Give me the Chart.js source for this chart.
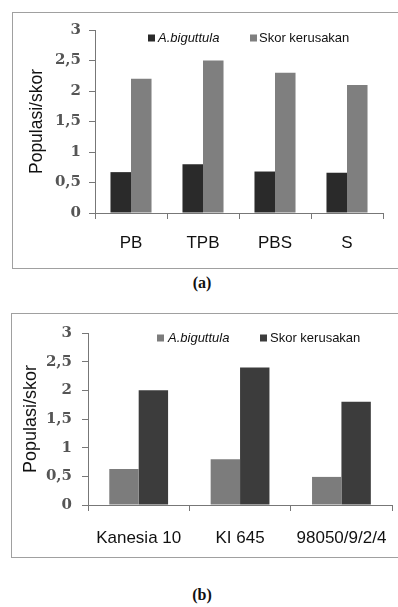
<!DOCTYPE html>
<html>
<head>
<meta charset="utf-8">
<script src="https://cdn.jsdelivr.net/npm/chart.js@4/dist/chart.umd.min.js"></script>
<style>
  html, body { margin:0; padding:0; background:#fff; }
  body { width:398px; height:607px; overflow:hidden; position:relative; }
  .frame { position:absolute; border:1px solid #a0a0a0; border-right:none; box-sizing:border-box; }
  .wrap { position:absolute; }
  .cap { position:absolute; width:60px; text-align:center; font:bold 16px "Liberation Serif", serif; color:#111; line-height:16px; }
</style>
</head>
<body>
<div class="frame" style="left:12px;top:12px;width:400px;height:257px;"></div>
<div class="wrap" style="left:13px;top:13px;width:385px;height:255px;"><canvas id="cA" width="385" height="255"></canvas></div>
<div class="cap" style="left:172px;top:275px;">(a)</div>

<div class="frame" style="left:11px;top:313px;width:400px;height:245px;"></div>
<div class="wrap" style="left:12px;top:314px;width:392px;height:243px;"><canvas id="cB" width="392" height="243"></canvas></div>
<div class="cap" style="left:172px;top:587px;">(b)</div>

<script>
// ---- data ----
const categoriesA = ['PB', 'TPB', 'PBS', 'S'];
const biguttulaA = [0.67, 0.80, 0.68, 0.66];
const skorA = [2.2, 2.5, 2.3, 2.1];

const categoriesB = ['Kanesia 10', 'KI 645', '98050/9/2/4'];
const biguttulaB = [0.63, 0.80, 0.49];
const skorB = [2.0, 2.4, 1.8];

const yTickValues = [0, 0.5, 1, 1.5, 2, 2.5, 3];
const yTickLabels = ['0', '0,5', '1', '1,5', '2', '2,5', '3'];
const seriesNames = ['A.biguttula', 'Skor kerusakan'];
const yTitle = 'Populasi/skor';

// ---- custom legend (italic first label) ----
const customLegend = {
  id: 'customLegend',
  afterDraw(chart, args, opts) {
    const ctx = chart.ctx;
    ctx.save();
    chart.data.datasets.forEach((ds, i) => {
      const it = opts.items[i];
      ctx.fillStyle = ds.backgroundColor;
      ctx.fillRect(it.mx, opts.y - 3.5, 7, 7);
      ctx.fillStyle = '#111';
      ctx.font = (ds.italicLabel ? 'italic ' : '') + '13px "Liberation Sans", Arial, sans-serif';
      ctx.textBaseline = 'middle';
      ctx.textAlign = 'left';
      ctx.fillText(ds.label, it.tx, opts.y);
    });
    ctx.restore();
  }
};

function makeChart(id, cats, s1, s2, c1, c2, cfg) {
  return new Chart(document.getElementById(id), {
    type: 'bar',
    data: {
      labels: cats,
      datasets: [
        { label: seriesNames[0], data: s1, backgroundColor: c1, italicLabel: true,
          barPercentage: 1, categoryPercentage: cfg.catPct },
        { label: seriesNames[1], data: s2, backgroundColor: c2,
          barPercentage: 1, categoryPercentage: cfg.catPct }
      ]
    },
    options: {
      responsive: false,
      animation: false,
      layout: { padding: { top: cfg.padTop, right: cfg.padRight, left: 0, bottom: 0 } },
      plugins: {
        legend: { display: false },
        tooltip: { enabled: false },
        customLegend: cfg.legend
      },
      scales: {
        x: {
          grid: { display: true, drawOnChartArea: false, drawTicks: true, tickLength: 6, color: '#777', offset: true },
          border: { color: '#777', width: 1 },
          ticks: { font: { family: '"Liberation Sans", Arial, sans-serif', size: 17 }, color: '#111', padding: cfg.xPad, maxRotation: 0, autoSkip: false },
          afterFit(scale) { scale.height = cfg.xHeight; }
        },
        y: {
          min: 0, max: 3,
          afterBuildTicks(scale) { scale.ticks = yTickValues.map(v => ({ value: v })); },
          grid: { display: true, drawOnChartArea: false, drawTicks: true, tickLength: 6, color: '#777' },
          border: { color: '#777', width: 1 },
          ticks: {
            font: { family: '"DejaVu Serif", serif', size: 15, weight: 'bold' },
            color: '#555', padding: cfg.yPad,
            callback: (v) => { const i = yTickValues.indexOf(v); return i >= 0 ? yTickLabels[i] : ''; }
          },
          title: {
            display: true, text: yTitle, color: '#111',
            font: { family: '"Liberation Sans", Arial, sans-serif', size: cfg.titleSize, weight: 'normal' },
            padding: { top: cfg.titlePadTop, bottom: 0 }
          },
          afterFit(scale) { scale.width = cfg.yWidth; }
        }
      }
    },
    plugins: [customLegend]
  });
}

makeChart('cA', categoriesA, biguttulaA, skorA, '#2a2a2a', '#7f7f7f', {
  catPct: 0.57, padTop: 17, padRight: 15, xHeight: 55, xPad: 14, yWidth: 82, yPad: 8,
  titleSize: 17.5, titlePadTop: 13.5,
  legend: { y: 25, items: [{ mx: 135, tx: 145 }, { mx: 237, tx: 246 }] }
});

makeChart('cB', categoriesB, biguttulaB, skorB, '#7c7c7c', '#3c3c3c', {
  catPct: 0.58, padTop: 13, padRight: 4, xHeight: 52, xPad: 17, yWidth: 76, yPad: 10,
  titleSize: 18, titlePadTop: 8.2,
  legend: { y: 24, items: [{ mx: 145, tx: 156 }, { mx: 248, tx: 258 }] }
});
</script>
</body>
</html>
